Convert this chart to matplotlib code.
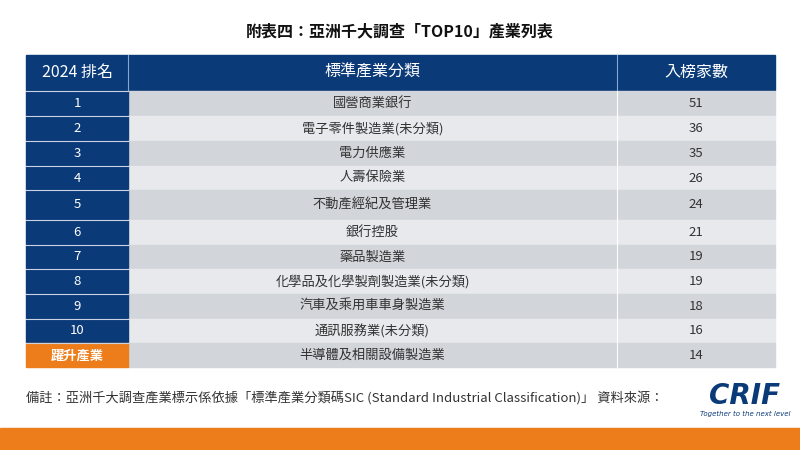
import matplotlib
matplotlib.use("Agg")
import matplotlib.pyplot as plt
from matplotlib.patches import Rectangle
from matplotlib import font_manager

names = {f.name for f in font_manager.fontManager.ttflist}
cjk = [n for n in ["Noto Sans CJK TC", "Noto Sans CJK JP", "Noto Sans CJK SC", "Noto Sans CJK KR"] if n in names]
plt.rcParams["font.family"] = cjk + ["DejaVu Sans"]

title = "附表四：亞洲千大調查「TOP10」產業列表"
headers = ["2024 排名", "標準產業分類", "入榜家數"]
ranks = ["1", "2", "3", "4", "5", "6", "7", "8", "9", "10", "躍升產業"]
industries = ["國營商業銀行", "電子零件製造業(未分類)", "電力供應業", "人壽保險業",
              "不動產經紀及管理業", "銀行控股", "藥品製造業", "化學品及化學製劑製造業(未分類)",
              "汽車及乘用車車身製造業", "通訊服務業(未分類)", "半導體及相關設備製造業"]
counts = [51, 36, 35, 26, 24, 21, 19, 19, 18, 16, 14]
note = "備註：亞洲千大調查產業標示係依據「標準產業分類碼SIC (Standard Industrial Classification)」 資料來源："

NAVY = "#0b3a78"
ORANGE = "#ec7d1a"
fig = plt.figure(figsize=(8, 4.5), dpi=100)
ax = fig.add_axes([0, 0, 1, 1])
ax.set_xlim(0, 800); ax.set_ylim(450, 0); ax.axis("off")

ax.text(400, 31, title, ha="center", va="center", fontsize=11.5, fontweight="bold", color="#111")

cols = [26, 128, 617, 775]
ax.add_patch(Rectangle((cols[0], 55), cols[3]-cols[0], 35, color=NAVY))
for i, h in enumerate(headers):
    ax.text((cols[i]+cols[i+1])/2, 72, h, ha="center", va="center", fontsize=11.5, color="white")
for c in cols[1:3]:
    ax.plot([c, c], [55, 90], color="#8aa6cf", lw=0.8)

heights = [25, 25, 25, 24, 30, 25, 24, 25, 25, 24, 25]
y = 91
for i in range(len(ranks)):
    h = heights[i]
    bg = "#d2d5da" if i % 2 == 0 else "#e7e9ec"
    ax.add_patch(Rectangle((cols[1], y), cols[3]-cols[1], h-1, color=bg))
    ax.add_patch(Rectangle((cols[0], y), cols[1]-cols[0], h-1, color=ORANGE if i == 10 else NAVY))
    ax.plot([cols[0], cols[1]], [y-0.5, y-0.5], color="#c9d3e3", lw=0.8)
    ax.plot([cols[2], cols[2]], [y, y+h-1], color="white", lw=0.8)
    cy = y + h/2
    ax.text((cols[0]+cols[1])/2, cy, ranks[i], ha="center", va="center", fontsize=9.5, color="white",
            fontweight="bold" if i == 10 else "normal")
    ax.text((cols[1]+cols[2])/2, cy, industries[i], ha="center", va="center", fontsize=9.5, color="#333")
    ax.text((cols[2]+cols[3])/2, cy, str(counts[i]), ha="center", va="center", fontsize=9.5, color="#333")
    y += h

ax.text(26, 398, note, ha="left", va="center", fontsize=9.5, color="#333")
ax.text(745, 396, "CRIF", ha="center", va="center", fontsize=20, fontweight="bold",
        style="italic", color=NAVY, family="DejaVu Sans")
ax.text(745, 414, "Together to the next level", ha="center", va="center", fontsize=5,
        style="italic", color=NAVY, family="DejaVu Sans")
ax.add_patch(Rectangle((0, 428), 800, 22, color=ORANGE))
fig.savefig("out.png", dpi=100)
